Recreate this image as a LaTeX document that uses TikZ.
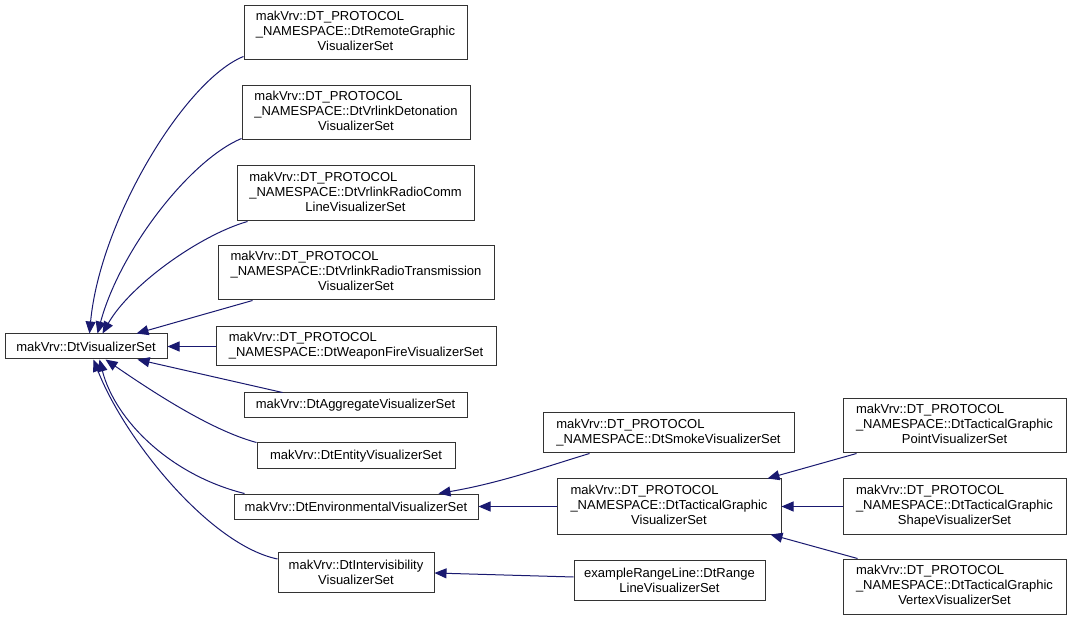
\documentclass[tikz,border=0pt]{standalone}
\usepackage{fontspec}
\setmainfont{Liberation Sans}
\usetikzlibrary{arrows.meta,calc}
\definecolor{edgec}{HTML}{191970}
\newcommand\tLLC[3]{\begin{tabular}{@{}l@{}}#1\\#2\\\multicolumn{1}{@{}c@{}}{#3}\end{tabular}}
\newcommand\tLL[2]{\begin{tabular}{@{}l@{}}#1\\#2\end{tabular}}
\begin{document}
\begin{tikzpicture}[x=1pt,y=-1pt,
  box/.style={draw=black!80, line width=1pt, fill=white, inner sep=0pt, align=center,
    font=\fontsize{13}{15}\selectfont},
  edge/.style={draw=edgec, line width=1pt, -{Triangle[length=12pt,width=10pt]}}]
\useasboundingbox[fill=white] (0,0) rectangle (1072,620);
\def\PR{makVrv::DT\_PROTOCOL}
\node[box, minimum width=162pt, minimum height=25pt] (vs) at (86,346.5) {makVrv::DtVisualizerSet};
\node[box, minimum width=223pt, minimum height=54pt] (remote) at (355.5,33) {\tLLC{\PR}{\_NAMESPACE::DtRemoteGraphic}{VisualizerSet}};
\node[box, minimum width=228pt, minimum height=54pt] (deton) at (356,113) {\tLLC{\PR}{\_NAMESPACE::DtVrlinkDetonation}{VisualizerSet}};
\node[box, minimum width=237pt, minimum height=55pt] (radiocomm) at (355.5,193.5) {\tLLC{\PR}{\_NAMESPACE::DtVrlinkRadioComm}{LineVisualizerSet}};
\node[box, minimum width=276pt, minimum height=54pt] (radiotx) at (356,273) {\tLLC{\PR}{\_NAMESPACE::DtVrlinkRadioTransmission}{VisualizerSet}};
\node[box, minimum width=280pt, minimum height=39pt] (weapon) at (356,346.5) {\tLL{\PR}{\_NAMESPACE::DtWeaponFireVisualizerSet}};
\node[box, minimum width=223pt, minimum height=25pt] (aggr) at (355.5,405.5) {makVrv::DtAggregateVisualizerSet};
\node[box, minimum width=198pt, minimum height=26pt] (entity) at (356,456) {makVrv::DtEntityVisualizerSet};
\node[box, minimum width=244pt, minimum height=25pt] (env) at (356,506.5) {makVrv::DtEnvironmentalVisualizerSet};
\node[box, minimum width=156pt, minimum height=40pt] (intervis) at (356,572) {makVrv::DtIntervisibility\\VisualizerSet};
\node[box, minimum width=251pt, minimum height=40pt] (smoke) at (668.5,433) {\tLL{\PR}{\_NAMESPACE::DtSmokeVisualizerSet}};
\node[box, minimum width=224pt, minimum height=55pt] (tactical) at (669,506.5) {\tLLC{\PR}{\_NAMESPACE::DtTacticalGraphic}{VisualizerSet}};
\node[box, minimum width=191pt, minimum height=40pt] (range) at (669.5,580) {exampleRangeLine::DtRange\\LineVisualizerSet};
\node[box, minimum width=223pt, minimum height=54pt] (point) at (954.5,426) {\tLLC{\PR}{\_NAMESPACE::DtTacticalGraphic}{PointVisualizerSet}};
\node[box, minimum width=223pt, minimum height=55pt] (shape) at (954.5,506.5) {\tLLC{\PR}{\_NAMESPACE::DtTacticalGraphic}{ShapeVisualizerSet}};
\node[box, minimum width=223pt, minimum height=55pt] (vertex) at (954.5,586.5) {\tLLC{\PR}{\_NAMESPACE::DtTacticalGraphic}{VertexVisualizerSet}};
% edges
\draw[edge] ($(remote.south west)+(0,-4)$) .. controls (185,80) and (100,220) .. ($(vs.north west)+(85,0)$);
\draw[edge] ($(deton.south west)+(0,-2)$) .. controls (190,160) and (120,250) .. ($(vs.north west)+(93,0)$);
\draw[edge] ($(radiocomm.south west)+(11,0)$) .. controls (200,235) and (130,285) .. ($(vs.north west)+(98,0)$);
\draw[edge] ($(radiotx.south west)+(35,0)$) -- ($(vs.north west)+(132,0)$);
\draw[edge] (weapon.west) -- (vs.east);
\draw[edge] ($(aggr.north west)+(39,0)$) -- ($(vs.south west)+(133,0)$);
\draw[edge] (entity.north west) .. controls (210,430) and (150,390) .. ($(vs.south west)+(101,0)$);
\draw[edge] ($(env.north west)+(11,0)$) .. controls (170,475) and (115,420) .. ($(vs.south west)+(95,0)$);
\draw[edge] ($(intervis.west)+(0,-13)$) .. controls (210,545) and (125,440) .. ($(vs.south west)+(89,0)$);
\draw[edge] ($(smoke.south west)+(47,0)$) .. controls (545,467) and (500,483) .. ($(env.north east)+(-40,0)$);
\draw[edge] (tactical.west) -- (env.east);
\draw[edge] ($(range.west)+(0,-3)$) -- ($(intervis.east)+(0,1)$);
\draw[edge] ($(point.south west)+(14,0)$) -- ($(tactical.north east)+(-14,0)$);
\draw[edge] (shape.west) -- (tactical.east);
\draw[edge] ($(vertex.north west)+(15,0)$) -- ($(tactical.south east)+(-11,0)$);
\end{tikzpicture}
\end{document}
